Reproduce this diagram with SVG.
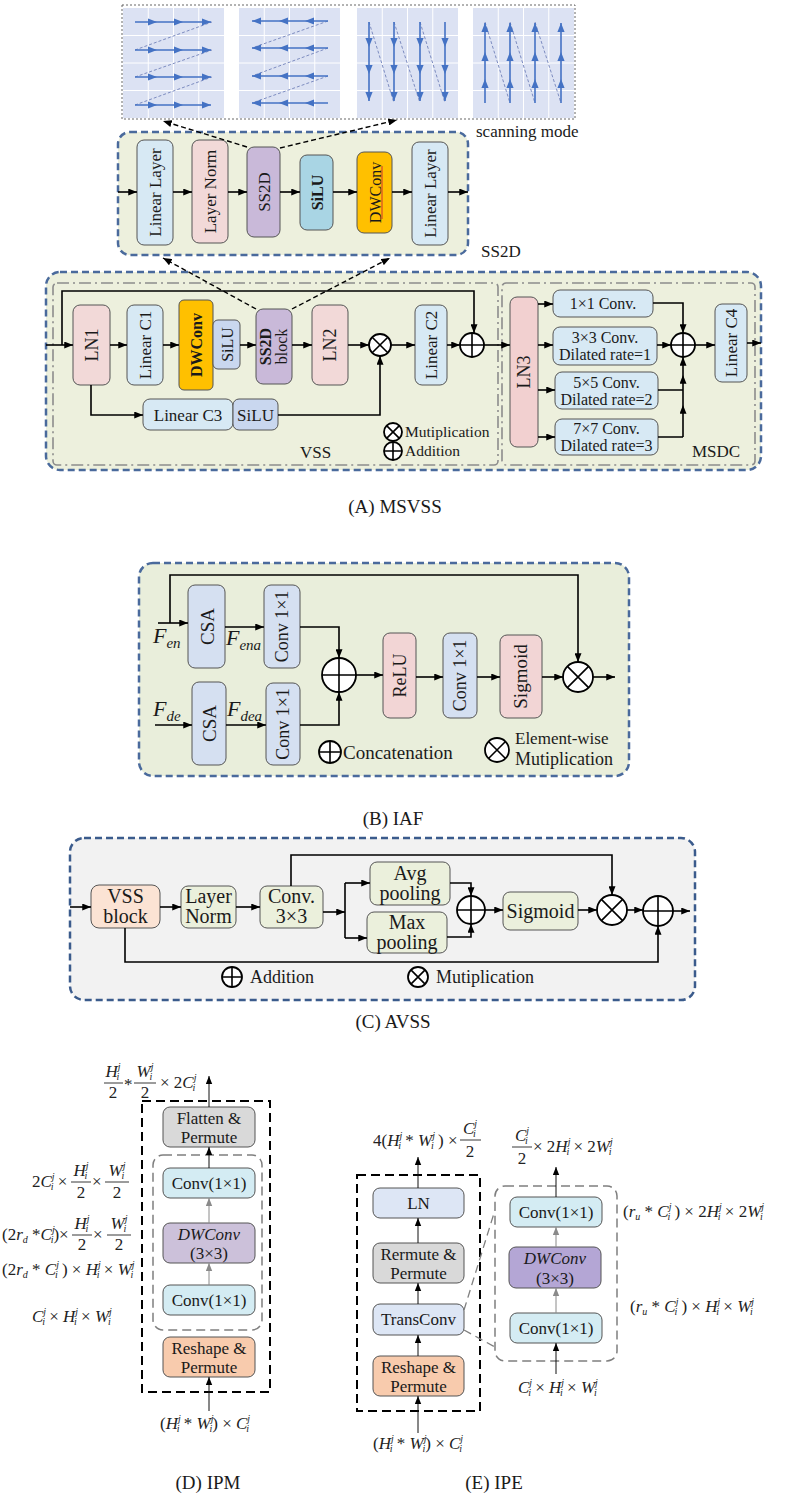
<svg xmlns="http://www.w3.org/2000/svg" width="791" height="1497" viewBox="0 0 791 1497">
<defs>
<style>
.t{font-family:"Liberation Serif","Times New Roman",serif;fill:#1a1a1a}
.m{font-family:"Liberation Serif","Times New Roman",serif;font-style:italic;font-size:17px;fill:#222}
.s{font-size:10px}
.n{font-style:normal}
.b{font-weight:bold}
.bx{stroke:#555;stroke-width:1}
.ln{fill:none;stroke:#000;stroke-width:1.6}
.ar{fill:none;stroke:#000;stroke-width:1.6;marker-end:url(#ah)}
.thin{fill:none;stroke:#111;stroke-width:1;marker-end:url(#ahs)}
.gar{fill:none;stroke:#8a8a8a;stroke-width:1;marker-end:url(#ahg)}
.sym{fill:#fff;stroke:#000;stroke-width:1.8}
.sl{stroke:#000;stroke-width:1.6}
.panel{stroke:#4a6a9c;stroke-width:2.5;stroke-dasharray:7 4}
.dd{fill:none;stroke:#8c8c8c;stroke-width:1.6;stroke-dasharray:12 4 2 4}
.scan{fill:none;stroke:#4472c4;stroke-width:1.6;marker-mid:url(#ahb);marker-end:url(#ahb)}
.sd{fill:none;stroke:#7d8cc0;stroke-width:1;stroke-dasharray:3 2}
.kd{fill:none;stroke:#000;stroke-width:2;stroke-dasharray:9 5}
.gd{fill:none;stroke:#7f7f7f;stroke-width:1.5;stroke-dasharray:9 5}
.bar{stroke:#222;stroke-width:0.9}
</style>
<marker id="ah" viewBox="0 0 10 8" refX="10" refY="4" markerWidth="9" markerHeight="7" markerUnits="userSpaceOnUse" orient="auto"><path d="M0,0L10,4L0,8z" fill="#000"/></marker>
<marker id="ahs" viewBox="0 0 10 8" refX="10" refY="4" markerWidth="8" markerHeight="7" markerUnits="userSpaceOnUse" orient="auto"><path d="M0,0L10,4L0,8z" fill="#000"/></marker>
<marker id="ahg" viewBox="0 0 10 8" refX="10" refY="4" markerWidth="8" markerHeight="7" markerUnits="userSpaceOnUse" orient="auto"><path d="M0,0L10,4L0,8z" fill="#8a8a8a"/></marker>
<marker id="ahb" viewBox="0 0 10 8" refX="10" refY="4" markerWidth="9" markerHeight="8" markerUnits="userSpaceOnUse" orient="auto"><path d="M0,0L10,4L0,8z" fill="#4472c4"/></marker>
<g id="grid"><rect width="101" height="110" fill="#dce2f3"/><path d="M25.25,0V110M50.5,0V110M75.75,0V110M0,27.5H101M0,55H101M0,82.5H101" stroke="#fff" stroke-width="1"/></g>
</defs>
<rect width="791" height="1497" fill="#fff"/>

<!-- ===== scanning modes ===== -->
<g id="scan-modes">
<rect x="122" y="5" width="453" height="114" fill="#fff" stroke="#666" stroke-width="1" stroke-dasharray="2 2"/>
<use href="#grid" x="123" y="8"/>
<use href="#grid" x="239" y="8"/>
<use href="#grid" x="357" y="8"/>
<use href="#grid" x="473" y="8"/>
<path class="sd" d="M135,50L212,22M135,77L212,50M135,105L212,77"/>
<polyline class="scan" points="135,22 157,22 183,22 211,22"/>
<polyline class="scan" points="135,50 157,50 183,50 211,50"/>
<polyline class="scan" points="135,77 157,77 183,77 211,77"/>
<polyline class="scan" points="135,105 157,105 183,105 211,105"/>
<path class="sd" d="M328,21L252,48M328,48L252,76M328,76L252,103"/>
<polyline class="scan" points="328,21 305,21 279,21 252,21"/>
<polyline class="scan" points="328,48 305,48 279,48 252,48"/>
<polyline class="scan" points="328,76 305,76 279,76 252,76"/>
<polyline class="scan" points="328,103 305,103 279,103 252,103"/>
<path class="sd" d="M369,22L394,103M394,22L420,103M420,22L445,103"/>
<polyline class="scan" points="369,22 369,47 369,74 369,101"/>
<polyline class="scan" points="394,22 394,47 394,74 394,101"/>
<polyline class="scan" points="420,22 420,47 420,74 420,101"/>
<polyline class="scan" points="445,22 445,47 445,74 445,101"/>
<path class="sd" d="M485,22L510,103M510,22L535,103M535,22L561,103"/>
<polyline class="scan" points="485,103 485,79 485,52 485,23"/>
<polyline class="scan" points="510,103 510,79 510,52 510,23"/>
<polyline class="scan" points="535,103 535,79 535,52 535,23"/>
<polyline class="scan" points="561,103 561,79 561,52 561,23"/>
<text class="t" x="476" y="137" font-size="17">scanning mode</text>
</g>

<!-- ===== SS2D panel ===== -->
<g id="ss2d-panel">
<rect class="panel" x="118" y="132" width="350" height="123" rx="12" fill="#edf0dd"/>
<text class="t" x="481" y="257" font-size="17">SS2D</text>
</g>
<g id="ss2d-linear1"><rect class="bx" x="137" y="140" width="36" height="105" rx="7" fill="#d7e9f4"/><text class="t" font-size="17" text-anchor="middle" transform="translate(155,192.5) rotate(-90)" dy="6">Linear Layer</text></g>
<g id="ss2d-layernorm"><rect class="bx" x="192" y="140" width="36" height="103" rx="7" fill="#f2d9d8"/><text class="t" font-size="17" text-anchor="middle" transform="translate(210,191.5) rotate(-90)" dy="6">Layer Norm</text></g>
<g id="ss2d-ss2d"><rect class="bx" x="247" y="147" width="33" height="90" rx="7" fill="#c9b9d9"/><text class="t" font-size="17" text-anchor="middle" transform="translate(263.5,192) rotate(-90)" dy="6">SS2D</text></g>
<g id="ss2d-silu"><rect class="bx" x="300" y="155" width="33" height="75" rx="7" fill="#a9d5e4"/><text class="t b" font-size="16" text-anchor="middle" transform="translate(316.5,192.5) rotate(-90)" dy="6">SiLU</text></g>
<g id="ss2d-dwconv"><rect class="bx" x="357" y="152" width="35" height="81" rx="7" fill="#ffc000"/><text class="t" font-size="16" text-anchor="middle" transform="translate(374.5,192.5) rotate(-90)" dy="6">DWConv</text><path d="M382,166V219" stroke="#d03030" stroke-width="1"/></g>
<g id="ss2d-linear2"><rect class="bx" x="412" y="142" width="36" height="103" rx="7" fill="#d7e9f4"/><text class="t" font-size="17" text-anchor="middle" transform="translate(430,193.5) rotate(-90)" dy="6">Linear Layer</text></g>

<!-- ===== MSVSS ===== -->
<g id="msvss-panel">
<rect class="panel" x="46" y="272" width="715" height="198" rx="14" fill="#edf0dd"/>
<rect class="dd" x="53" y="283" width="445" height="182" rx="4"/>
<rect class="dd" x="502" y="283" width="253" height="182" rx="4"/>
<text class="t" x="300" y="458" font-size="17">VSS</text>
<text class="t" x="692" y="457" font-size="17">MSDC</text>
</g>
<g id="ln1"><rect class="bx" x="73" y="305" width="37" height="80" rx="7" fill="#f2d9d8"/><text class="t" font-size="18" text-anchor="middle" transform="translate(91.5,345) rotate(-90)" dy="6">LN1</text></g>
<g id="linear-c1"><rect class="bx" x="127" y="305" width="36" height="80" rx="7" fill="#d7e9f4"/><text class="t" font-size="17" text-anchor="middle" transform="translate(145,345) rotate(-90)" dy="6">Linear C1</text></g>
<g id="dwconv"><rect class="bx" x="179" y="300" width="34" height="90" rx="5" fill="#ffc000"/><text class="t b" font-size="16" text-anchor="middle" transform="translate(196,345) rotate(-90)" dy="6">DWConv</text></g>
<g id="silu1"><rect class="bx" x="213" y="320" width="27" height="49" rx="5" fill="#c9d7ef"/><text class="t" font-size="16" text-anchor="middle" transform="translate(226.5,344.5) rotate(-90)" dy="6">SiLU</text></g>
<g id="ss2d-block"><rect class="bx" x="256" y="309" width="36" height="75" rx="7" fill="#c9b9d9"/><text class="t" font-size="16" text-anchor="middle" transform="translate(274,346.5) rotate(-90)"><tspan class="b" x="0" dy="-3">SS2D</tspan><tspan x="0" dy="16">block</tspan></text></g>
<g id="ln2"><rect class="bx" x="312" y="305" width="36" height="80" rx="7" fill="#f2d9d8"/><text class="t" font-size="18" text-anchor="middle" transform="translate(330,345) rotate(-90)" dy="6">LN2</text></g>
<g id="mul1"><circle class="sym" cx="380" cy="345" r="11"/><path class="sl" d="M372.2,337.2L387.8,352.8M387.8,337.2L372.2,352.8"/></g>
<g id="linear-c3"><rect class="bx" x="143" y="399" width="90" height="31" rx="7" fill="#d7e9f4"/><text class="t" font-size="17" x="188" y="421" text-anchor="middle">Linear C3</text></g>
<g id="silu2"><rect class="bx" x="233" y="399" width="45" height="31" rx="6" fill="#c9d7ef"/><text class="t" font-size="17" x="255.5" y="421" text-anchor="middle">SiLU</text></g>
<g id="linear-c2"><rect class="bx" x="415" y="305" width="32" height="80" rx="7" fill="#d7e9f4"/><text class="t" font-size="17" text-anchor="middle" transform="translate(431,345) rotate(-90)" dy="6">Linear C2</text></g>
<g id="add1"><circle class="sym" cx="472" cy="345" r="12"/><path class="sl" d="M460,345H484M472,333V357"/></g>
<g id="ln3"><rect class="bx" x="510" y="297" width="28" height="150" rx="7" fill="#f2d0d0"/><text class="t" font-size="18" text-anchor="middle" transform="translate(524,372) rotate(-90)" dy="6">LN3</text></g>
<g id="conv1x1"><rect class="bx" x="553" y="290" width="100" height="27" rx="7" fill="#d7e9f4"/><text class="t" font-size="16" x="603" y="309" text-anchor="middle">1×1 Conv.</text></g>
<g id="conv3x3"><rect class="bx" x="553" y="327" width="104" height="38" rx="7" fill="#d7e9f4"/><text class="t" font-size="16" x="605" y="343" text-anchor="middle">3×3 Conv.</text><text class="t" font-size="16" x="605" y="360" text-anchor="middle">Dilated rate=1</text></g>
<g id="conv5x5"><rect class="bx" x="555" y="372" width="103" height="37" rx="7" fill="#d7e9f4"/><text class="t" font-size="16" x="606.5" y="388" text-anchor="middle">5×5 Conv.</text><text class="t" font-size="16" x="606.5" y="405" text-anchor="middle">Dilated rate=2</text></g>
<g id="conv7x7"><rect class="bx" x="555" y="419" width="103" height="36" rx="7" fill="#d7e9f4"/><text class="t" font-size="16" x="606.5" y="434" text-anchor="middle">7×7 Conv.</text><text class="t" font-size="16" x="606.5" y="451" text-anchor="middle">Dilated rate=3</text></g>
<g id="add2"><circle class="sym" cx="683" cy="345" r="12"/><path class="sl" d="M671,345H695M683,333V357"/></g>
<g id="linear-c4"><rect class="bx" x="715" y="304" width="32" height="78" rx="7" fill="#d7e9f4"/><text class="t" font-size="17" text-anchor="middle" transform="translate(731,343) rotate(-90)" dy="6">Linear C4</text></g>
<g id="msvss-legend">
<circle class="sym" cx="393" cy="432" r="9"/><path class="sl" d="M386.6,425.6L399.4,438.4M399.4,425.6L386.6,438.4"/>
<text class="t" x="405" y="437" font-size="15.5">Mutiplication</text>
<circle class="sym" cx="393" cy="451" r="9"/><path class="sl" d="M384,451H402M393,442V460"/>
<text class="t" x="405" y="456" font-size="15.5">Addition</text>
</g>
<text class="t" x="395" y="513" font-size="19" text-anchor="middle">(A) MSVSS</text>

<!-- ===== IAF ===== -->
<g id="iaf-panel"><rect class="panel" x="139" y="563" width="490" height="213" rx="14" fill="#e9eedb"/></g>
<g id="csa1"><rect class="bx" x="188" y="585" width="37" height="83" rx="7" fill="#d5e0f1"/><text class="t" font-size="19" text-anchor="middle" transform="translate(206.5,626.5) rotate(-90)" dy="7">CSA</text></g>
<g id="iaf-conv1"><rect class="bx" x="264" y="585" width="36" height="83" rx="7" fill="#d5e0f1"/><text class="t" font-size="18" text-anchor="middle" transform="translate(282,626.5) rotate(-90)" dy="6">Conv 1×1</text></g>
<g id="csa2"><rect class="bx" x="192" y="682" width="34" height="83" rx="7" fill="#d5e0f1"/><text class="t" font-size="19" text-anchor="middle" transform="translate(209,723.5) rotate(-90)" dy="7">CSA</text></g>
<g id="iaf-conv2"><rect class="bx" x="266" y="683" width="34" height="82" rx="7" fill="#d5e0f1"/><text class="t" font-size="18" text-anchor="middle" transform="translate(283,724) rotate(-90)" dy="6">Conv 1×1</text></g>
<g id="iaf-add"><circle class="sym" cx="339" cy="675" r="17"/><path class="sl" d="M322,675H356M339,658V692"/></g>
<g id="relu"><rect class="bx" x="383" y="633" width="33" height="85" rx="7" fill="#f2d5d5"/><text class="t" font-size="18" fill="#444" text-anchor="middle" transform="translate(399.5,675.5) rotate(-90)" dy="6">ReLU</text></g>
<g id="iaf-conv3"><rect class="bx" x="443" y="633" width="34" height="85" rx="7" fill="#d5e0f1"/><text class="t" font-size="18" text-anchor="middle" transform="translate(460,675.5) rotate(-90)" dy="6">Conv 1×1</text></g>
<g id="iaf-sigmoid"><rect class="bx" x="500" y="635" width="42" height="83" rx="7" fill="#f2d5d5"/><text class="t" font-size="19" text-anchor="middle" transform="translate(521,676.5) rotate(-90)" dy="6">Sigmoid</text></g>
<g id="iaf-mul"><circle class="sym" cx="578" cy="677" r="15"/><path class="sl" d="M567.4,666.4L588.6,687.6M588.6,666.4L567.4,687.6"/></g>
<g id="iaf-labels">
<text class="t" x="153" y="643" font-size="22" font-style="italic">F<tspan font-size="15" dy="5">en</tspan></text>
<text class="t" x="226" y="645" font-size="22" font-style="italic">F<tspan font-size="15" dy="5">ena</tspan></text>
<text class="t" x="153" y="716" font-size="22" font-style="italic">F<tspan font-size="15" dy="5">de</tspan></text>
<text class="t" x="227" y="716" font-size="22" font-style="italic">F<tspan font-size="15" dy="5">dea</tspan></text>
</g>
<g id="iaf-legend">
<circle class="sym" cx="330" cy="752" r="11"/><path class="sl" d="M319,752H341M330,741V763"/>
<text class="t" x="343" y="759" font-size="19">Concatenation</text>
<circle class="sym" cx="497" cy="750" r="12"/><path class="sl" d="M488.5,741.5L505.5,758.5M505.5,741.5L488.5,758.5"/>
<text class="t" x="515" y="744" font-size="17" fill="#555">Element-wise</text>
<text class="t" x="515" y="765" font-size="18">Mutiplication</text>
</g>
<text class="t" x="393" y="825" font-size="19" text-anchor="middle">(B) IAF</text>

<!-- ===== AVSS ===== -->
<g id="avss-panel"><rect x="70" y="838" width="625" height="162" rx="14" fill="#f2f2f2" stroke="#3b5b8c" stroke-width="2.5" stroke-dasharray="7 4"/></g>
<g id="vss-block"><rect class="bx" x="91" y="885" width="69" height="43" rx="8" fill="#fbe3d4"/><text class="t" font-size="20" x="125.5" y="903" text-anchor="middle">VSS</text><text class="t" font-size="20" x="125.5" y="923" text-anchor="middle">block</text></g>
<g id="avss-layernorm"><rect class="bx" x="181" y="886" width="55" height="42" rx="7" fill="#ebf0dc"/><text class="t" font-size="20" x="208.5" y="903" text-anchor="middle">Layer</text><text class="t" font-size="20" x="208.5" y="923" text-anchor="middle">Norm</text></g>
<g id="avss-conv"><rect class="bx" x="260" y="886" width="63" height="42" rx="7" fill="#ebf0dc"/><text class="t" font-size="20" x="291.5" y="903" text-anchor="middle">Conv.</text><text class="t" font-size="20" x="291.5" y="923" text-anchor="middle">3×3</text></g>
<g id="avg-pool"><rect class="bx" x="370" y="862" width="80" height="43" rx="7" fill="#ebf0dc"/><text class="t" font-size="20" x="410" y="880" text-anchor="middle">Avg</text><text class="t" font-size="20" x="410" y="900" text-anchor="middle">pooling</text></g>
<g id="max-pool"><rect class="bx" x="367" y="912" width="80" height="41" rx="7" fill="#ebf0dc"/><text class="t" font-size="20" x="407" y="929" text-anchor="middle">Max</text><text class="t" font-size="20" x="407" y="949" text-anchor="middle">pooling</text></g>
<g id="avss-add1"><circle class="sym" cx="471" cy="910" r="14"/><path class="sl" d="M457,910H485M471,896V924"/></g>
<g id="avss-sigmoid"><rect class="bx" x="503" y="892" width="75" height="38" rx="7" fill="#ebf0dc"/><text class="t" font-size="20" x="540.5" y="918" text-anchor="middle">Sigmoid</text></g>
<g id="avss-mul"><circle class="sym" cx="612" cy="910" r="15"/><path class="sl" d="M601.4,899.4L622.6,920.6M622.6,899.4L601.4,920.6"/></g>
<g id="avss-add2"><circle class="sym" cx="658" cy="911" r="15"/><path class="sl" d="M643,911H673M658,896V926"/></g>
<g id="avss-legend">
<circle class="sym" cx="232" cy="977" r="10"/><path class="sl" d="M222,977H242M232,967V987"/>
<text class="t" x="250" y="983" font-size="18">Addition</text>
<circle class="sym" cx="418" cy="977" r="10"/><path class="sl" d="M410.9,969.9L425.1,984.1M425.1,969.9L410.9,984.1"/>
<text class="t" x="436" y="983" font-size="18">Mutiplication</text>
</g>
<text class="t" x="393" y="1028" font-size="19" text-anchor="middle">(C) AVSS</text>

<!-- ===== IPM ===== -->
<g id="ipm-frame"><rect class="kd" x="142" y="1101" width="128" height="291"/><rect class="gd" x="153" y="1155" width="109" height="175" rx="10"/></g>
<g id="ipm-flatten"><rect class="bx" x="163" y="1107" width="92" height="40" rx="7" fill="#d9d9d9"/><text class="t" font-size="17" x="209" y="1124" text-anchor="middle">Flatten &amp;</text><text class="t" font-size="17" x="209" y="1143" text-anchor="middle">Permute</text></g>
<g id="ipm-conv-top"><rect class="bx" x="163" y="1168" width="92" height="30" rx="7" fill="#d4ecf3"/><text class="t" font-size="17" x="209" y="1189" text-anchor="middle">Conv(1×1)</text></g>
<g id="ipm-dwconv"><rect class="bx" x="163" y="1223" width="92" height="40" rx="7" fill="#ccc1da"/><text class="t" font-size="17" font-style="italic" fill="#444" x="209" y="1240" text-anchor="middle">DWConv</text><text class="t" font-size="17" x="209" y="1259" text-anchor="middle">(3×3)</text></g>
<g id="ipm-conv-bot"><rect class="bx" x="163" y="1285" width="92" height="30" rx="7" fill="#d4ecf3"/><text class="t" font-size="17" x="209" y="1306" text-anchor="middle">Conv(1×1)</text></g>
<g id="ipm-reshape"><rect class="bx" x="163" y="1337" width="92" height="40" rx="7" fill="#f8cbad"/><text class="t" font-size="17" x="209" y="1354" text-anchor="middle">Reshape &amp;</text><text class="t" font-size="17" x="209" y="1373" text-anchor="middle">Permute</text></g>
<g id="ipm-labels">
<text class="m" x="113" y="1077" text-anchor="middle">H<tspan class="s" dy="-7">j</tspan><tspan class="s" dx="-4" dy="10">i</tspan></text>
<text class="m n" x="113" y="1098" text-anchor="middle">2</text>
<text class="m n" x="124" y="1090">*</text>
<text class="m" x="145" y="1077" text-anchor="middle">W<tspan class="s" dy="-7">j</tspan><tspan class="s" dx="-4" dy="10">i</tspan></text>
<text class="m n" x="145" y="1098" text-anchor="middle">2</text>
<path class="bar" d="M104,1083H123M134,1083H156"/>
<text class="m" x="160" y="1088"><tspan class="n">× 2</tspan>C<tspan class="s" dy="-7">j</tspan><tspan class="s" dx="-4" dy="10">i</tspan></text>

<text class="m" x="32" y="1187"><tspan class="n">2</tspan>C<tspan class="s" dy="-7">j</tspan><tspan class="s" dx="-4" dy="10">i</tspan><tspan class="n" dy="-3"> ×</tspan></text>
<text class="m" x="81" y="1176" text-anchor="middle">H<tspan class="s" dy="-7">j</tspan><tspan class="s" dx="-4" dy="10">i</tspan></text>
<text class="m n" x="81" y="1198" text-anchor="middle">2</text>
<text class="m n" x="92" y="1187">×</text>
<text class="m" x="117" y="1176" text-anchor="middle">W<tspan class="s" dy="-7">j</tspan><tspan class="s" dx="-4" dy="10">i</tspan></text>
<text class="m n" x="117" y="1198" text-anchor="middle">2</text>
<path class="bar" d="M71,1182H91M105,1182H129"/>

<text class="m" x="2" y="1240"><tspan class="n">(2</tspan>r<tspan class="s" dy="3">d</tspan><tspan class="n" dy="-3"> *</tspan>C<tspan class="s" dy="-7">j</tspan><tspan class="s" dx="-4" dy="10">i</tspan><tspan class="n" dy="-3">)×</tspan></text>
<text class="m" x="82" y="1229" text-anchor="middle">H<tspan class="s" dy="-7">j</tspan><tspan class="s" dx="-4" dy="10">i</tspan></text>
<text class="m n" x="82" y="1250" text-anchor="middle">2</text>
<text class="m n" x="93" y="1240">×</text>
<text class="m" x="119" y="1229" text-anchor="middle">W<tspan class="s" dy="-7">j</tspan><tspan class="s" dx="-4" dy="10">i</tspan></text>
<text class="m n" x="119" y="1250" text-anchor="middle">2</text>
<path class="bar" d="M72,1235H92M107,1235H131"/>

<text class="m" x="2" y="1275"><tspan class="n">(2</tspan>r<tspan class="s" dy="3">d</tspan><tspan class="n" dy="-3"> * </tspan>C<tspan class="s" dy="-7">j</tspan><tspan class="s" dx="-4" dy="10">i</tspan><tspan class="n" dy="-3"> ) × </tspan>H<tspan class="s" dy="-7">j</tspan><tspan class="s" dx="-4" dy="10">i</tspan><tspan class="n" dy="-3"> × </tspan>W<tspan class="s" dy="-7">j</tspan><tspan class="s" dx="-4" dy="10">i</tspan></text>
<text class="m" x="32" y="1322">C<tspan class="s" dy="-7">j</tspan><tspan class="s" dx="-4" dy="10">i</tspan><tspan class="n" dy="-3"> × </tspan>H<tspan class="s" dy="-7">j</tspan><tspan class="s" dx="-4" dy="10">i</tspan><tspan class="n" dy="-3"> × </tspan>W<tspan class="s" dy="-7">j</tspan><tspan class="s" dx="-4" dy="10">i</tspan></text>
<text class="m" x="160" y="1429"><tspan class="n">(</tspan>H<tspan class="s" dy="-7">j</tspan><tspan class="s" dx="-4" dy="10">i</tspan><tspan class="n" dy="-3"> * </tspan>W<tspan class="s" dy="-7">j</tspan><tspan class="s" dx="-4" dy="10">i</tspan><tspan class="n" dy="-3">) × </tspan>C<tspan class="s" dy="-7">j</tspan><tspan class="s" dx="-4" dy="10">i</tspan></text>
</g>
<text class="t" x="208" y="1489" font-size="19" text-anchor="middle">(D) IPM</text>

<!-- ===== IPE ===== -->
<g id="ipe-frame"><rect class="kd" x="357" y="1175" width="123" height="236"/><rect class="gd" x="495" y="1186" width="122" height="175" rx="10"/></g>
<g id="ipe-ln"><rect class="bx" x="373" y="1188" width="91" height="30" rx="7" fill="#dde6f5"/><text class="t" font-size="17" x="418.5" y="1209" text-anchor="middle">LN</text></g>
<g id="ipe-rermute"><rect class="bx" x="373" y="1243" width="91" height="40" rx="7" fill="#d9d9d9"/><text class="t" font-size="17" x="418.5" y="1260" text-anchor="middle">Rermute &amp;</text><text class="t" font-size="17" x="418.5" y="1279" text-anchor="middle">Permute</text></g>
<g id="ipe-transconv"><rect class="bx" x="373" y="1304" width="91" height="31" rx="7" fill="#dde6f5"/><text class="t" font-size="17" x="418.5" y="1325" text-anchor="middle">TransConv</text></g>
<g id="ipe-reshape"><rect class="bx" x="373" y="1356" width="91" height="40" rx="7" fill="#f8cbad"/><text class="t" font-size="17" x="418.5" y="1373" text-anchor="middle">Reshape &amp;</text><text class="t" font-size="17" x="418.5" y="1392" text-anchor="middle">Permute</text></g>
<g id="ipe-conv-top"><rect class="bx" x="510" y="1197" width="92" height="30" rx="7" fill="#d4ecf3"/><text class="t" font-size="17" x="556" y="1218" text-anchor="middle">Conv(1×1)</text></g>
<g id="ipe-dwconv"><rect class="bx" x="509" y="1247" width="92" height="41" rx="7" fill="#b4a6d5"/><text class="t" font-size="17" font-style="italic" fill="#444" x="555" y="1264" text-anchor="middle">DWConv</text><text class="t" font-size="17" x="555" y="1284" text-anchor="middle">(3×3)</text></g>
<g id="ipe-conv-bot"><rect class="bx" x="510" y="1313" width="92" height="30" rx="7" fill="#d4ecf3"/><text class="t" font-size="17" x="556" y="1334" text-anchor="middle">Conv(1×1)</text></g>
<g id="ipe-labels">
<text class="m" x="373" y="1146"><tspan class="n">4(</tspan>H<tspan class="s" dy="-7">j</tspan><tspan class="s" dx="-4" dy="10">i</tspan><tspan class="n" dy="-3"> * </tspan>W<tspan class="s" dy="-7">j</tspan><tspan class="s" dx="-4" dy="10">i</tspan><tspan class="n" dy="-3"> ) ×</tspan></text>
<text class="m" x="470" y="1134" text-anchor="middle">C<tspan class="s" dy="-7">j</tspan><tspan class="s" dx="-4" dy="10">i</tspan></text>
<text class="m n" x="470" y="1157" text-anchor="middle">2</text>
<path class="bar" d="M460,1140H481"/>
<text class="m" x="522" y="1141" text-anchor="middle">C<tspan class="s" dy="-7">j</tspan><tspan class="s" dx="-4" dy="10">i</tspan></text>
<text class="m n" x="522" y="1164" text-anchor="middle">2</text>
<path class="bar" d="M512,1147H532"/>
<text class="m" x="533" y="1152"><tspan class="n">× 2</tspan>H<tspan class="s" dy="-7">j</tspan><tspan class="s" dx="-4" dy="10">i</tspan><tspan class="n" dy="-3"> × 2</tspan>W<tspan class="s" dy="-7">j</tspan><tspan class="s" dx="-4" dy="10">i</tspan></text>
<text class="m" x="623" y="1217"><tspan class="n">(</tspan>r<tspan class="s" dy="3">u</tspan><tspan class="n" dy="-3"> * </tspan>C<tspan class="s" dy="-7">j</tspan><tspan class="s" dx="-4" dy="10">i</tspan><tspan class="n" dy="-3"> ) × 2</tspan>H<tspan class="s" dy="-7">j</tspan><tspan class="s" dx="-4" dy="10">i</tspan><tspan class="n" dy="-3"> × 2</tspan>W<tspan class="s" dy="-7">j</tspan><tspan class="s" dx="-4" dy="10">i</tspan></text>
<text class="m" x="630" y="1312"><tspan class="n">(</tspan>r<tspan class="s" dy="3">u</tspan><tspan class="n" dy="-3"> * </tspan>C<tspan class="s" dy="-7">j</tspan><tspan class="s" dx="-4" dy="10">i</tspan><tspan class="n" dy="-3"> ) × </tspan>H<tspan class="s" dy="-7">j</tspan><tspan class="s" dx="-4" dy="10">i</tspan><tspan class="n" dy="-3"> × </tspan>W<tspan class="s" dy="-7">j</tspan><tspan class="s" dx="-4" dy="10">i</tspan></text>
<text class="m" x="518" y="1393">C<tspan class="s" dy="-7">j</tspan><tspan class="s" dx="-4" dy="10">i</tspan><tspan class="n" dy="-3"> × </tspan>H<tspan class="s" dy="-7">j</tspan><tspan class="s" dx="-4" dy="10">i</tspan><tspan class="n" dy="-3"> × </tspan>W<tspan class="s" dy="-7">j</tspan><tspan class="s" dx="-4" dy="10">i</tspan></text>
<text class="m" x="373" y="1449"><tspan class="n">(</tspan>H<tspan class="s" dy="-7">j</tspan><tspan class="s" dx="-4" dy="10">i</tspan><tspan class="n" dy="-3"> * </tspan>W<tspan class="s" dy="-7">j</tspan><tspan class="s" dx="-4" dy="10">i</tspan><tspan class="n" dy="-3">) × </tspan>C<tspan class="s" dy="-7">j</tspan><tspan class="s" dx="-4" dy="10">i</tspan></text>
</g>
<text class="t" x="494" y="1489" font-size="19" text-anchor="middle">(E) IPE</text>

<!-- ===== connectors ===== -->
<g id="connectors">
<path d="M247,147L163,121" fill="none" stroke="#000" stroke-width="1.4" stroke-dasharray="5 3" marker-end="url(#ah)"/>
<path d="M280,148L397,120" fill="none" stroke="#000" stroke-width="1.4" stroke-dasharray="5 3" marker-end="url(#ah)"/>
<path class="ar" d="M118,192H137"/>
<path class="ar" d="M173,192H192"/>
<path class="ar" d="M228,192H247"/>
<path class="ar" d="M280,192H300"/>
<path class="ar" d="M333,192H357"/>
<path class="ar" d="M392,192H412"/>
<path class="ar" d="M448,192H468"/>
<path d="M256,309L163,258" fill="none" stroke="#000" stroke-width="1.4" stroke-dasharray="5 3" marker-end="url(#ah)"/>
<path d="M292,309L390,258" fill="none" stroke="#000" stroke-width="1.4" stroke-dasharray="5 3" marker-end="url(#ah)"/>
<path class="ar" d="M46,345H73"/>
<path class="ar" d="M62,345V291H474V333"/>
<path class="ar" d="M110,345H127"/>
<path class="ar" d="M163,345H179"/>
<path class="ar" d="M240,345H256"/>
<path class="ar" d="M292,345H312"/>
<path class="ar" d="M348,345H369"/>
<path class="ar" d="M91,385V415H143"/>
<path class="ar" d="M278,415H380V356"/>
<path class="ar" d="M391,345H415"/>
<path class="ar" d="M447,345H460"/>
<path class="ar" d="M484,345H510"/>
<path class="ar" d="M538,304H553"/>
<path class="ar" d="M538,345H553"/>
<path class="ar" d="M538,390H555"/>
<path class="ar" d="M538,437H555"/>
<path class="ar" d="M653,303H683V333"/>
<path class="ar" d="M657,345H671"/>
<path class="ln" d="M658,390H683M658,437H683"/>
<path d="M683,437L683,405L683,375L683,357" fill="none" stroke="#000" stroke-width="1.6" marker-mid="url(#ah)" marker-end="url(#ah)"/>
<path class="ar" d="M695,345H715"/>
<path class="ar" d="M747,343H761"/>
<path class="ar" d="M158,623H188"/>
<path class="ar" d="M170,623V575H578V662"/>
<path class="ar" d="M225,627H264"/>
<path class="ar" d="M300,627H339V658"/>
<path class="ar" d="M155,725H192"/>
<path class="ar" d="M226,725H266"/>
<path class="ar" d="M300,725H339V692"/>
<path class="ar" d="M356,675H383"/>
<path class="ar" d="M416,677H443"/>
<path class="ar" d="M477,677H500"/>
<path class="ar" d="M542,677H563"/>
<path class="ar" d="M593,677H615"/>
<path class="ar" d="M70,907H91"/>
<path class="ar" d="M160,907H181"/>
<path class="ar" d="M236,907H260"/>
<path class="ar" d="M291,886V855H612V895"/>
<path class="ar" d="M323,912H345"/>
<path class="ln" d="M345,883V938"/>
<path class="ar" d="M345,883H370"/>
<path class="ar" d="M345,938H367"/>
<path class="ar" d="M450,883H471V896"/>
<path class="ar" d="M447,937H471V924"/>
<path class="ar" d="M485,910H503"/>
<path class="ar" d="M578,910H597"/>
<path class="ar" d="M627,910H643"/>
<path class="ar" d="M673,911H690"/>
<path class="ar" d="M125,928V962H658V926"/>
<path class="thin" d="M209,1107V1076"/>
<path class="thin" d="M209,1168V1147"/>
<path class="gar" d="M209,1223V1198"/>
<path class="gar" d="M209,1285V1263"/>
<path class="thin" d="M209,1411V1377"/>
<path class="thin" d="M418,1188V1157"/>
<path class="thin" d="M418,1243V1218"/>
<path class="thin" d="M418,1304V1283"/>
<path class="thin" d="M418,1356V1335"/>
<path class="thin" d="M418,1433V1396"/>
<path class="thin" d="M556,1197V1167"/>
<path class="gar" d="M556,1247V1227"/>
<path class="gar" d="M556,1313V1288"/>
<path class="thin" d="M556,1374V1343"/>
<path d="M464,1310L495,1210M464,1330L495,1347" fill="none" stroke="#7f7f7f" stroke-width="1.3" stroke-dasharray="8 5"/>
</g>
</svg>
